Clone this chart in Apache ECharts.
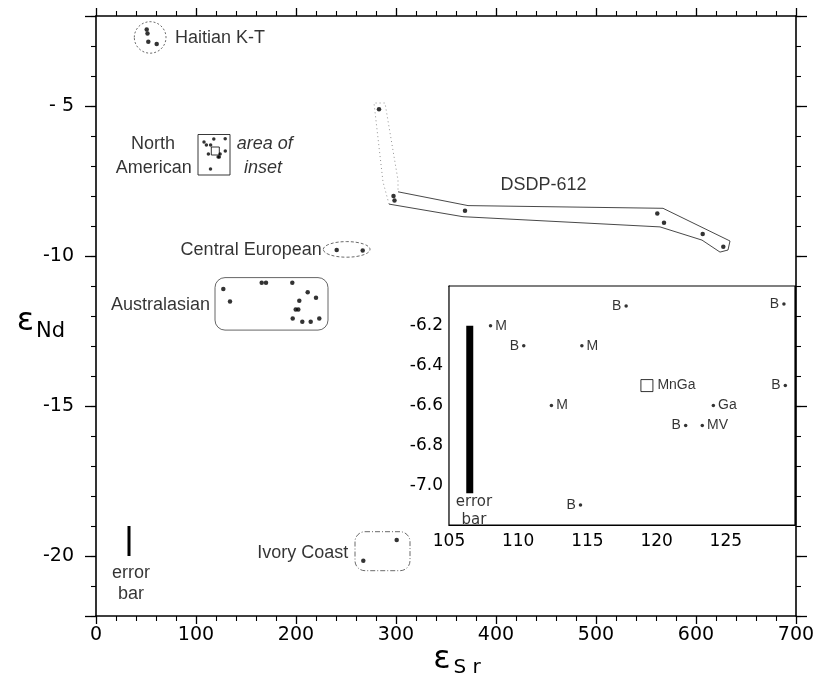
<!DOCTYPE html>
<html><head><meta charset="utf-8">
<script src="https://cdn.jsdelivr.net/npm/echarts@6/dist/echarts.min.js"></script>
<style>html,body{margin:0;padding:0;background:#fff}#c{width:823px;height:689px}</style>
</head><body><div id="c"></div>
<script>
// ---------- DATA (main plot: x = εSr, y = εNd) ----------
const haitianKT = [[50.7,-2.45],[51.5,-2.58],[52.3,-2.86],[60.7,-2.93]];
const centralEuropean = [[240.7,-9.8],[266.7,-9.82]];
const australasian = [[127.3,-11.1],[134,-11.52],[165.7,-10.89],[170,-10.89],[196.3,-10.89],[211.7,-11.21],[220,-11.39],[203.3,-11.49],[199.7,-11.78],[202.3,-11.78],[196.7,-12.08],[206.3,-12.19],[214.7,-12.19],[223.3,-12.08]];
const dsdp612 = [[283,-5.11],[297.5,-8.0],[298.5,-8.15],[369,-8.49],[561.3,-8.58],[568,-8.89],[606.7,-9.27],[627.3,-9.69]];
const ivoryCoast = [[300.7,-19.47],[267.3,-20.16]];
// North American samples (shown in the inset)
const insetSr = [117.8,129.2,108.0,110.4,114.6,119.3,129.3,112.4,124.1,122.1,123.3,114.5];
const insetNd = [-6.1,-6.09,-6.2,-6.3,-6.3,-6.5,-6.5,-6.6,-6.6,-6.7,-6.7,-7.1];
const insetLabels = ['B','B','M','B','M','MnGa','B','M','Ga','B','MV','B'];
// error bars
const mainErrorBar = [[33,-19.0],[33,-20.0]];
const insetErrorBar = [[106.5,-6.2],[106.5,-7.04]];
// group outlines (data units: x1, y1, x2, y2)
const haitianOutline = [38.3,-2.19,70,-3.24];
const centralEuropeanOutline = [227.3,-9.52,274,-10.04];
const australasianOutline = [119,-10.72,232,-12.47];
const ivoryCoastOutline = [259,-19.19,314,-20.49];
const insetAreaOutline = [102,-5.95,134,-7.3];
const dsdpOutlineDotted = [[293,-8.27],[287,-7.53],[278,-4.9],[289,-4.9],[302,-7.47],[302,-7.86]];
const dsdpOutlineSolid = [[302,-7.86],[372,-8.32],[567,-8.41],[634,-9.5],[632,-9.8],[624,-9.87],[606,-9.47],[564,-9.03],[367,-8.69],[293,-8.27]];
// ticks
const mainXTicks = [0,100,200,300,400,500,600,700];
const mainYTicks = [-5,-10,-15,-20];
const insetXTicks = [105,110,115,120,125];
const insetYTicks = [-6.2,-6.4,-6.6,-6.8,-7.0];
// text notes: [text, x, y, position]
const mainNotes = [
  ['Haitian K-T',79,-2.73,'right'],
  ['North',57,-6.27,'inside'],
  ['American',95.7,-7.06,'left'],
  ['Central European',225.7,-9.8,'left'],
  ['Australasian',114,-11.63,'left'],
  ['DSDP-612',447.6,-7.63,'inside'],
  ['Ivory Coast',252.3,-19.89,'left'],
  ['error',35,-20.57,'inside'],
  ['bar',35,-21.27,'inside']
];
const mainItalicNotes = [
  ['area of',140.7,-6.27,'right'],
  ['inset',148,-7.06,'right']
];
const insetNotes = [
  ['error',106.8,-7.084,'inside'],
  ['bar',106.8,-7.176,'inside']
];

// ---------- CHART ----------
const FONT = 'Liberation Sans';
const TICKFONT = 'DejaVu Sans';
const INK = '#000';
const chart = echarts.init(document.getElementById('c'), null, {renderer:'canvas'});

function outlineSeries(box, kind, style, xi, yi){
  return {
    type:'custom', coordinateSystem:'cartesian2d', xAxisIndex:xi, yAxisIndex:yi,
    silent:true, z:1,
    encode:{x:[0,2], y:[1,3]},
    data:[box],
    renderItem:function(params, api){
      const p1 = api.coord([api.value(0), api.value(1)]);
      const p2 = api.coord([api.value(2), api.value(3)]);
      const x = Math.min(p1[0],p2[0]), y = Math.min(p1[1],p2[1]);
      const w = Math.abs(p2[0]-p1[0]), h = Math.abs(p2[1]-p1[1]);
      if (kind === 'ellipse') {
        return {type:'ellipse', shape:{cx:x+w/2, cy:y+h/2, rx:w/2, ry:h/2}, style:Object.assign({fill:null}, style)};
      }
      return {type:'rect', shape:{x:x, y:y, width:w, height:h, r:kind==='round'?Math.min(10,h/3):0}, style:Object.assign({fill:null}, style)};
    }
  };
}

function noteSeries(notes, xi, yi, fontSize, extra){
  return {
    type:'scatter', xAxisIndex:xi, yAxisIndex:yi, symbolSize:0, silent:true, z:5,
    data: notes.map(n => ({name:n[0], value:[n[1], n[2]], label:{position:n[3]}})),
    label:Object.assign({show:true, formatter:'{b}', distance:0, color:INK, fontFamily:FONT, fontSize:fontSize}, extra||{})
  };
}

const dotStyle = {color:INK};

const option = {
  animation:false,
  backgroundColor:'#fff',
  grid:[
    {left:96, top:16, width:700, height:600, outerBoundsMode:'none', containLabel:false},
    {left:449, top:286, width:346, height:239, outerBoundsMode:'none', containLabel:false,
     show:true, backgroundColor:'#fff', borderColor:INK, borderWidth:1.2, z:3}
  ],
  xAxis:[
    {type:'value', gridIndex:0, position:'bottom', min:0, max:700, interval:100,
     axisLine:{onZero:false, lineStyle:{color:INK, width:1.6}},
     axisTick:{show:true, inside:false, length:8, lineStyle:{color:INK, width:1.3}},
     minorTick:{show:true, splitNumber:5, length:5, lineStyle:{color:INK, width:1.1}},
     splitLine:{show:false},
     axisLabel:{fontSize:19, fontFamily:TICKFONT, color:INK, margin:10,
       formatter:v => mainXTicks.indexOf(v) >= 0 ? String(v) : ''},
     name:'{e|ε}{s|S r}', nameLocation:'middle', nameGap:28, nameMoveOverlap:false,
     nameTextStyle:{color:INK, padding:[0,0,0,22], rich:{e:{fontSize:32, fontFamily:TICKFONT, verticalAlign:'top'}, s:{fontSize:20, fontFamily:TICKFONT, verticalAlign:'top', padding:[14,0,0,3]}}}
    },
    {type:'value', gridIndex:0, position:'top', min:0, max:700, interval:100,
     axisLine:{onZero:false, lineStyle:{color:INK, width:1.6}},
     axisTick:{show:true, inside:false, length:8, lineStyle:{color:INK, width:1.3}},
     minorTick:{show:true, splitNumber:5, length:5, lineStyle:{color:INK, width:1.1}},
     splitLine:{show:false}, axisLabel:{show:false}},
    {type:'value', gridIndex:1, position:'bottom', min:105, max:130, interval:5,
     axisLine:{onZero:false, lineStyle:{color:INK, width:1.2}},
     axisTick:{show:true, inside:true, length:5, lineStyle:{color:INK}},
     splitLine:{show:false},
     axisLabel:{fontSize:17, fontFamily:TICKFONT, color:INK, margin:8,
       formatter:v => insetXTicks.indexOf(v) >= 0 ? String(v) : ''}},
    {type:'value', gridIndex:1, position:'top', min:105, max:130, interval:5,
     axisLine:{onZero:false, lineStyle:{color:INK, width:1.2}},
     axisTick:{show:true, inside:true, length:5, lineStyle:{color:INK}},
     splitLine:{show:false}, axisLabel:{show:false}}
  ],
  yAxis:[
    {type:'value', gridIndex:0, position:'left', min:-22, max:-2, splitNumber:4,
     axisLine:{onZero:false, lineStyle:{color:INK, width:1.6}},
     axisTick:{show:true, inside:false, length:11, lineStyle:{color:INK, width:1.3}},
     splitLine:{show:false},
     axisLabel:{fontSize:19, fontFamily:TICKFONT, color:INK, margin:22,
       formatter:v => mainYTicks.indexOf(v) >= 0 ? (v === -5 ? '- 5' : String(v)) : ''},
     name:'{e|ε}{s|Nd}', nameLocation:'middle', nameRotate:0, nameGap:31, nameMoveOverlap:false,
     nameTextStyle:{color:INK, padding:[16,0,0,0], rich:{e:{fontSize:32, fontFamily:TICKFONT, verticalAlign:'top'}, s:{fontSize:21, fontFamily:TICKFONT, verticalAlign:'top', padding:[16,0,0,2]}}}
    },
    {type:'value', gridIndex:0, position:'left', min:-22, max:-2, interval:1,
     axisLine:{show:false, onZero:false},
     axisTick:{show:true, inside:false, length:5, lineStyle:{color:INK, width:1.1}},
     splitLine:{show:false}, axisLabel:{show:false}},
    {type:'value', gridIndex:0, position:'right', min:-22, max:-2, splitNumber:4,
     axisLine:{onZero:false, lineStyle:{color:INK, width:1.6}},
     axisTick:{show:true, inside:false, length:11, lineStyle:{color:INK, width:1.3}},
     splitLine:{show:false}, axisLabel:{show:false}},
    {type:'value', gridIndex:0, position:'right', min:-22, max:-2, interval:1,
     axisLine:{show:false, onZero:false},
     axisTick:{show:true, inside:false, length:5, lineStyle:{color:INK, width:1.1}},
     splitLine:{show:false}, axisLabel:{show:false}},
    {type:'value', gridIndex:1, position:'left', min:-7.2, max:-6.0, interval:0.2,
     axisLine:{onZero:false, lineStyle:{color:INK, width:1.2}},
     axisTick:{show:true, inside:true, length:5, lineStyle:{color:INK}},
     splitLine:{show:false},
     axisLabel:{fontSize:17, fontFamily:TICKFONT, color:INK, margin:6,
       formatter:v => insetYTicks.some(t => Math.abs(t - v) < 1e-6) ? v.toFixed(1) : ''}},
    {type:'value', gridIndex:1, position:'right', min:-7.2, max:-6.0, interval:0.2,
     axisLine:{onZero:false, lineStyle:{color:INK, width:1.2}},
     axisTick:{show:true, inside:true, length:5, lineStyle:{color:INK}},
     minorTick:{show:true, splitNumber:2, length:4, lineStyle:{color:INK}},
     splitLine:{show:false}, axisLabel:{show:false}}
  ],
  series:[
    outlineSeries(haitianOutline, 'ellipse', {stroke:'#444', lineWidth:0.8, lineDash:[2,2]}, 0, 0),
    outlineSeries(centralEuropeanOutline, 'ellipse', {stroke:'#444', lineWidth:0.8, lineDash:[3,2]}, 0, 0),
    outlineSeries(australasianOutline, 'round', {stroke:'#555', lineWidth:0.9}, 0, 0),
    outlineSeries(ivoryCoastOutline, 'round', {stroke:'#444', lineWidth:0.8, lineDash:[5,2,1,2]}, 0, 0),
    outlineSeries(insetAreaOutline, 'rect', {stroke:'#222', lineWidth:0.9}, 0, 0),
    {type:'line', xAxisIndex:0, yAxisIndex:0, data:dsdpOutlineDotted, symbol:'none', silent:true,
     lineStyle:{color:'#777', width:0.8, type:[1,3]}},
    {type:'line', xAxisIndex:0, yAxisIndex:0, data:dsdpOutlineSolid, symbol:'none', silent:true,
     lineStyle:{color:'#333', width:0.9}},
    {type:'scatter', xAxisIndex:0, yAxisIndex:0, symbolSize:4.5, itemStyle:dotStyle, z:4,
     data:[].concat(haitianKT, centralEuropean, australasian, dsdp612, ivoryCoast)},
    {type:'scatter', xAxisIndex:0, yAxisIndex:0, z:4,
     data:insetSr.map((x,i) => insetLabels[i] === 'MnGa'
        ? {value:[x, insetNd[i]], symbol:'rect', symbolSize:8, itemStyle:{color:'transparent', borderColor:INK, borderWidth:1}}
        : {value:[x, insetNd[i]], symbol:'circle', symbolSize:3.5, itemStyle:dotStyle})},
    {type:'line', xAxisIndex:0, yAxisIndex:0, data:mainErrorBar, symbol:'none', silent:true,
     lineStyle:{color:INK, width:3}},
    noteSeries(mainNotes, 0, 0, 18),
    noteSeries(mainItalicNotes, 0, 0, 18, {fontStyle:'italic'}),
    // inset
    {type:'line', xAxisIndex:2, yAxisIndex:4, data:insetErrorBar, symbol:'none', silent:true, z:4,
     lineStyle:{color:INK, width:7, cap:'butt'}},
    {type:'scatter', xAxisIndex:2, yAxisIndex:4, z:4,
     data:insetSr.map((x,i) => {
       const isSq = insetLabels[i] === 'MnGa';
       return {name:insetLabels[i], value:[x, insetNd[i]],
         symbol:isSq ? 'rect' : 'circle', symbolSize:isSq ? 12 : 3.5,
         itemStyle:isSq ? {color:'#fff', borderColor:INK, borderWidth:1} : dotStyle,
         label:{position:insetLabels[i] === 'B' ? 'left' : 'right', distance:isSq ? 4 : 3}};
     }),
     label:{show:true, formatter:'{b}', color:INK, fontFamily:FONT, fontSize:14}},
    noteSeries(insetNotes, 2, 4, 15, {fontFamily:TICKFONT})
  ]
};
chart.setOption(option);
</script></body></html>
